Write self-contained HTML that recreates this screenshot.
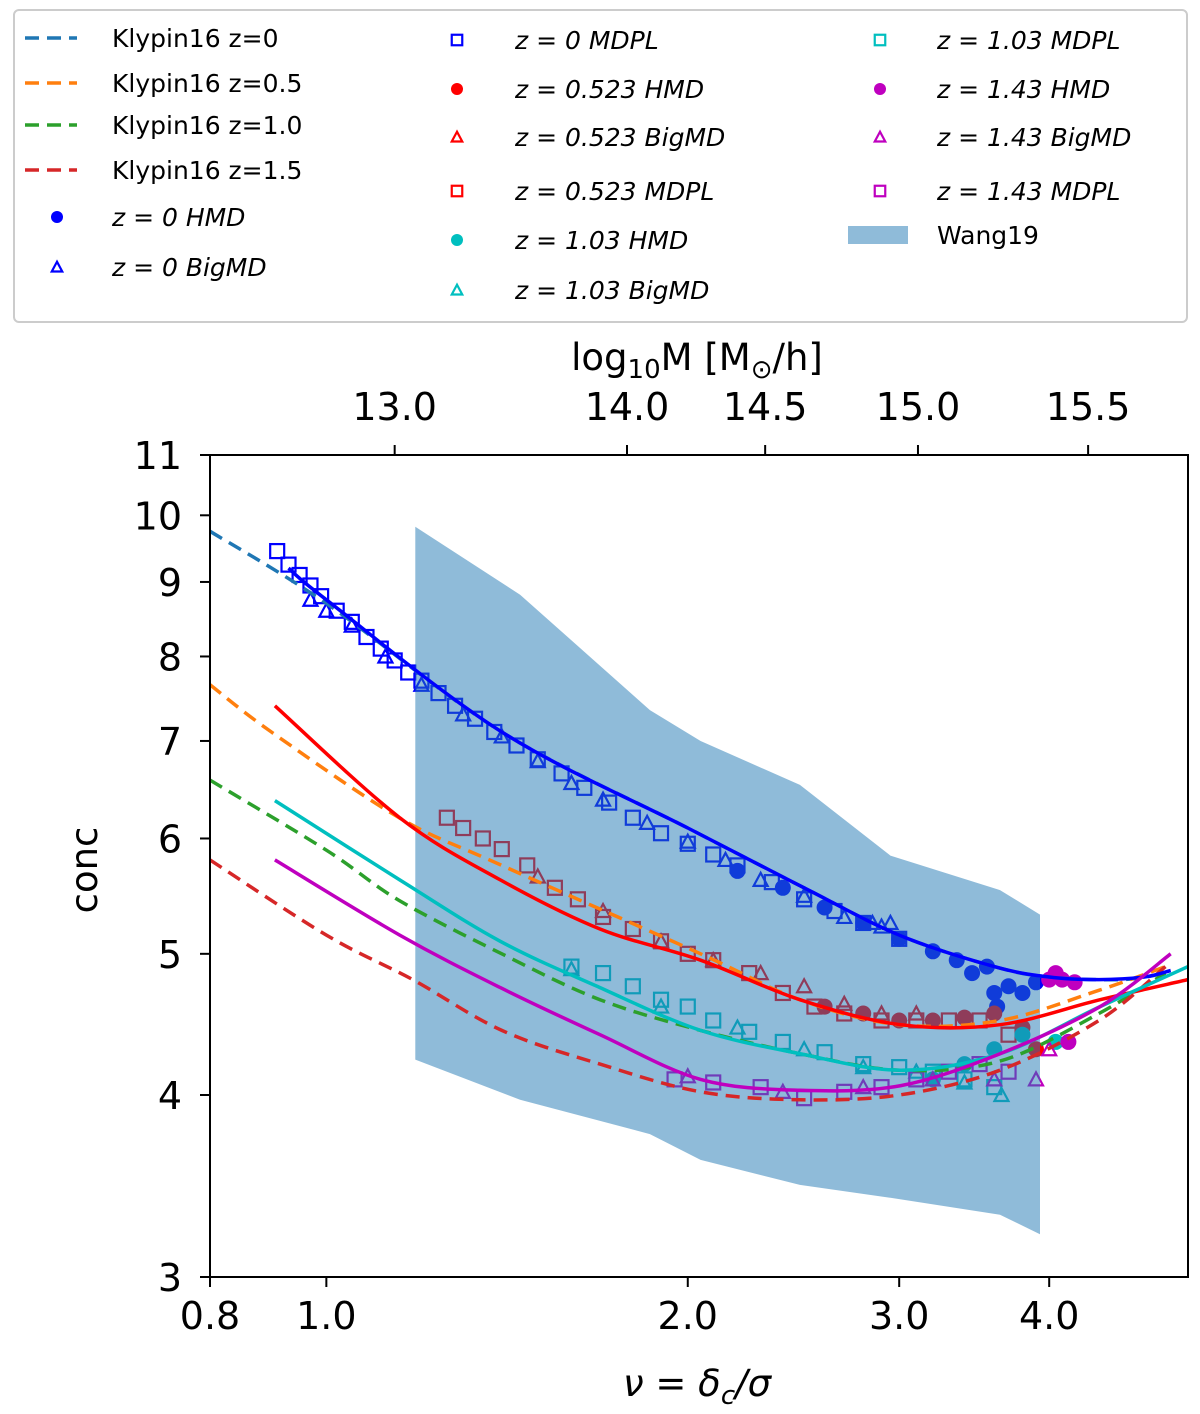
<!DOCTYPE html>
<html><head><meta charset="utf-8"><style>
html,body{margin:0;padding:0;background:#fff}
svg{display:block;font-family:"DejaVu Sans","Liberation Sans",sans-serif}
</style></head><body>
<svg id="chart" width="1200" height="1414" viewBox="0 0 1200 1414">
<defs><clipPath id="plotclip"><rect x="210" y="455" width="978" height="822"/></clipPath></defs>
<g id="legend">
<rect x="14" y="10" width="1173" height="312" rx="5" fill="#fff" stroke="#ccc" stroke-width="2"/>
</g>
<g id="marks" clip-path="url(#plotclip)"></g>
<rect x="210" y="455" width="978" height="822" fill="none" stroke="#000" stroke-width="2"/>
<g id="axes"></g>
<text x="697" y="370" font-size="37" text-anchor="middle">log<tspan font-size="26" dy="8">10</tspan><tspan dy="-8">M [M</tspan><tspan font-size="26" dy="8">⊙</tspan><tspan dy="-8">/h]</tspan></text>
<text x="697" y="1396" font-size="37" text-anchor="middle" font-style="italic">ν = δ<tspan font-size="26" dy="8">c</tspan><tspan dy="-8">/σ</tspan></text>
<text x="0" y="0" font-size="37" text-anchor="middle" transform="translate(97,870) rotate(-90)">conc</text>
</svg>
<script>
const xTicks=[0.8,1.0,2.0,3.0,4.0];
const yTicks=[3,4,5,6,7,8,9,10,11];
const topTickNu=[1.14,1.78,2.32,3.11,4.31];
const topTickLabels=["13.0","14.0","14.5","15.0","15.5"];
const klypinZ0Nu=[0.8,1.0,1.4,2.0,2.5,3.0,3.6,4.0,4.6,5.0];
const klypinZ0C=[9.75,8.7,7.1,6.1,5.55,5.15,4.9,4.82,4.8,4.85];
const klypinZ05Nu=[0.8,0.9,1.15,1.4,2.05,2.48,3.0,3.64,4.4,5.0];
const klypinZ05C=[7.65,7.1,6.2,5.75,5.0,4.65,4.47,4.5,4.72,4.9];
const klypinZ1Nu=[0.8,1.0,1.15,1.4,1.69,2.05,2.48,3.0,3.64,4.4,5.0];
const klypinZ1C=[6.58,5.89,5.44,5.0,4.65,4.43,4.27,4.16,4.22,4.55,4.85];
const klypinZ15Nu=[0.8,1.0,1.18,1.4,1.69,2.05,2.48,3.0,3.64,4.4,5.0];
const klypinZ15C=[5.8,5.15,4.8,4.43,4.2,4.02,3.97,4.0,4.16,4.5,4.9];
const fitZ0Nu=[0.93,1.0,1.4,2.0,2.5,3.0,3.6,4.0,4.4,4.8,5.05];
const fitZ0C=[9.2,8.75,7.1,6.1,5.55,5.15,4.9,4.82,4.8,4.82,4.87];
const fitZ05Nu=[0.906,1.151,1.396,1.69,2.05,2.48,3.01,3.64,4.41,5.22];
const fitZ05C=[7.4,6.2,5.62,5.2,4.95,4.65,4.47,4.47,4.65,4.8];
const fitZ1Nu=[0.906,1.151,1.396,1.69,2.05,2.48,3.01,3.64,4.41,5.22];
const fitZ1C=[6.37,5.62,5.1,4.74,4.43,4.27,4.16,4.27,4.6,4.9];
const fitZ15Nu=[0.906,1.151,1.396,1.69,2.05,2.48,3.01,3.64,4.41,5.05];
const fitZ15C=[5.8,5.15,4.74,4.4,4.1,4.03,4.06,4.27,4.6,5.0];
const wangNu=[1.186,1.45,1.86,2.05,2.48,2.95,3.64,3.93];
const wangUpper=[9.82,8.82,7.35,7.0,6.53,5.84,5.53,5.32];
const wangLower=[4.23,3.97,3.76,3.61,3.47,3.4,3.31,3.21];
const z0MdplNu=[0.91,0.93,0.95,0.97,0.99,1.02,1.05,1.08,1.11,1.14,1.17,1.2,1.24,1.28,1.33,1.38,1.44,1.5,1.57,1.64,1.72,1.8,1.9,2.0,2.1,2.2,2.35,2.5,2.65,2.8,3.0];
const z0MdplC=[9.45,9.25,9.1,8.95,8.8,8.6,8.45,8.25,8.1,7.95,7.8,7.7,7.55,7.4,7.25,7.1,6.95,6.8,6.65,6.5,6.35,6.2,6.05,5.95,5.85,5.75,5.6,5.45,5.35,5.25,5.12];
const z0BigNu=[0.97,1.0,1.05,1.12,1.2,1.3,1.4,1.5,1.6,1.7,1.85,2.0,2.15,2.3,2.5,2.7,2.85,2.9,2.95];
const z0BigC=[8.75,8.6,8.4,8.0,7.65,7.3,7.05,6.78,6.55,6.38,6.15,5.97,5.8,5.62,5.48,5.3,5.25,5.22,5.25];
const z0HmdNu=[2.2,2.4,2.6,2.8,3.0,3.2,3.35,3.45,3.55,3.6,3.62,3.7,3.8,3.9];
const z0HmdC=[5.7,5.55,5.38,5.25,5.12,5.02,4.95,4.85,4.9,4.7,4.6,4.75,4.7,4.78];
const z05MdplNu=[1.26,1.3,1.35,1.4,1.47,1.55,1.62,1.7,1.8,1.9,2.0,2.1,2.25,2.4,2.55,2.7,2.9,3.1,3.3,3.5,3.7];
const z05MdplC=[6.2,6.1,6.0,5.9,5.75,5.55,5.45,5.3,5.2,5.1,5.0,4.95,4.85,4.7,4.6,4.55,4.5,4.5,4.5,4.5,4.4];
const z05BigNu=[1.5,1.7,1.9,2.1,2.3,2.5,2.7,2.9,3.1];
const z05BigC=[5.65,5.35,5.1,4.95,4.85,4.75,4.62,4.55,4.55];
const z05HmdNu=[2.6,2.8,3.0,3.2,3.4,3.6,3.8,3.9];
const z05HmdC=[4.6,4.55,4.5,4.5,4.52,4.55,4.45,4.3];
const z1MdplNu=[1.6,1.7,1.8,1.9,2.0,2.1,2.25,2.4,2.6,2.8,3.0,3.2,3.4,3.6];
const z1MdplC=[4.9,4.85,4.75,4.65,4.6,4.5,4.42,4.35,4.28,4.2,4.18,4.15,4.1,4.05];
const z1BigNu=[1.6,1.9,2.2,2.5,2.8,3.1,3.4,3.65];
const z1BigC=[4.88,4.6,4.45,4.3,4.18,4.15,4.08,4.0];
const z1HmdNu=[3.2,3.4,3.6,3.8,4.05];
const z1HmdC=[4.1,4.2,4.3,4.4,4.35];
const z15MdplNu=[1.95,2.1,2.3,2.5,2.7,2.9,3.1,3.3,3.5,3.7];
const z15MdplC=[4.1,4.08,4.05,3.98,4.02,4.05,4.1,4.15,4.2,4.15];
const z15BigNu=[2.0,2.4,2.8,3.2,3.6,3.9,4.0];
const z15BigC=[4.12,4.02,4.05,4.1,4.1,4.1,4.3];
const z15HmdNu=[4.0,4.05,4.1,4.2,4.15];
const z15HmdC=[4.8,4.85,4.8,4.78,4.35];

const NS="http://www.w3.org/2000/svg";
const X0=210,X1=1188,Y0=1277,Y1=455,xmin=0.8,xmax=5.22,ymin=3,ymax=11;
function X(v){return X0+(X1-X0)*Math.log10(v/xmin)/Math.log10(xmax/xmin);}
function Y(v){return Y0-(Y0-Y1)*Math.log10(v/ymin)/Math.log10(ymax/ymin);}
function mk(tag,attrs,parent){const e=document.createElementNS(NS,tag);for(const k in attrs)e.setAttribute(k,attrs[k]);parent.appendChild(e);return e;}
const marks=document.getElementById('marks'),axes=document.getElementById('axes'),legend=document.getElementById('legend');

function marker(type,cx,cy,color,parent,s){
  s=s||1;let e;
  if(type==='sq')e=mk('rect',{x:cx-7*s,y:cy-7*s,width:14*s,height:14*s,fill:'none',stroke:color,'stroke-width':2.2},parent);
  else if(type==='dot')e=mk('circle',{cx:cx,cy:cy,r:8*s,fill:color},parent);
  else e=mk('polygon',{points:`${cx},${cy-7*s} ${cx-7*s},${cy+6*s} ${cx+7*s},${cy+6*s}`,fill:'none',stroke:color,'stroke-width':2.2},parent);
  return e;
}
function scatter(nus,cs,type,color,name){
  const g=mk('g',{},marks);
  
  
  nus.forEach((n,i)=>{const e=marker(type,X(n),Y(cs[i]),color,g);
    
    });
}
function smoothPath(pts){
  let d='M'+pts[0][0].toFixed(1)+','+pts[0][1].toFixed(1);
  for(let i=0;i<pts.length-1;i++){
    const p0=pts[Math.max(0,i-1)],p1=pts[i],p2=pts[i+1],p3=pts[Math.min(pts.length-1,i+2)];
    const c1=[p1[0]+(p2[0]-p0[0])/6,p1[1]+(p2[1]-p0[1])/6];
    const c2=[p2[0]-(p3[0]-p1[0])/6,p2[1]-(p3[1]-p1[1])/6];
    d+=`C${c1[0].toFixed(1)},${c1[1].toFixed(1)} ${c2[0].toFixed(1)},${c2[1].toFixed(1)} ${p2[0].toFixed(1)},${p2[1].toFixed(1)}`;
  }
  return d;
}
function line(nus,cs,color,dash,name){
  const pts=nus.map((n,i)=>[X(n),Y(cs[i])]);
  const p=mk('path',{d:smoothPath(pts),fill:'none',stroke:color,'stroke-width':3.5,'stroke-dasharray':dash||'none'},marks);
  
  
}
scatter(z0MdplNu,z0MdplC,'sq','#0000ff','z0-mdpl-series');
scatter(z0BigNu,z0BigC,'tri','#0000ff','z0-bigmd-series');
scatter(z0HmdNu,z0HmdC,'dot','#0000ff','z0-hmd-series');
scatter(z05MdplNu,z05MdplC,'sq','#ff0000','z0523-mdpl-series');
scatter(z05BigNu,z05BigC,'tri','#ff0000','z0523-bigmd-series');
scatter(z05HmdNu,z05HmdC,'dot','#ff0000','z0523-hmd-series');
scatter(z1MdplNu,z1MdplC,'sq','#00bfbf','z103-mdpl-series');
scatter(z1BigNu,z1BigC,'tri','#00bfbf','z103-bigmd-series');
scatter(z1HmdNu,z1HmdC,'dot','#00bfbf','z103-hmd-series');
scatter(z15MdplNu,z15MdplC,'sq','#bf00bf','z143-mdpl-series');
scatter(z15BigNu,z15BigC,'tri','#bf00bf','z143-bigmd-series');
scatter(z15HmdNu,z15HmdC,'dot','#bf00bf','z143-hmd-series');
{
  let d=wangNu.map((n,i)=>(i?'L':'M')+X(n).toFixed(1)+','+Y(wangUpper[i]).toFixed(1)).join('');
  for(let i=wangNu.length-1;i>=0;i--)d+='L'+X(wangNu[i]).toFixed(1)+','+Y(wangLower[i]).toFixed(1);
  const b=mk('path',{d:d+'Z',fill:'#1f77b4','fill-opacity':0.5},marks);
  
  
}
line(klypinZ0Nu,klypinZ0C,'#1f77b4','14 8','klypin16-z0-line');
line(klypinZ05Nu,klypinZ05C,'#ff7f0e','14 8','klypin16-z05-line');
line(klypinZ1Nu,klypinZ1C,'#2ca02c','14 8','klypin16-z1-line');
line(klypinZ15Nu,klypinZ15C,'#d62728','14 8','klypin16-z15-line');
line(fitZ0Nu,fitZ0C,'#0000ff',null,'fit-z0-line');
line(fitZ05Nu,fitZ05C,'#ff0000',null,'fit-z0523-line');
line(fitZ1Nu,fitZ1C,'#00bfbf',null,'fit-z103-line');
line(fitZ15Nu,fitZ15C,'#bf00bf',null,'fit-z143-line');
xTicks.forEach(t=>{const x=X(t);
  const l=mk('line',{x1:x,x2:x,y1:Y0,y2:Y0+10,stroke:'#000','stroke-width':2},axes);
  
  
  const tx=mk('text',{x:x,y:Y0+52,'font-size':38,'text-anchor':'middle'},axes);tx.textContent=t.toFixed(1);
  
  
});
yTicks.forEach(t=>{const y=Y(t);
  const l=mk('line',{x1:X0-10,x2:X0,y1:y,y2:y,stroke:'#000','stroke-width':2},axes);
  
  
  const tx=mk('text',{x:X0-28,y:y+14,'font-size':38,'text-anchor':'end'},axes);tx.textContent=t;
  
  
});
topTickNu.forEach((t,i)=>{const x=X(t);
  const l=mk('line',{x1:x,x2:x,y1:Y1-10,y2:Y1,stroke:'#000','stroke-width':2},axes);
  
  
  const tx=mk('text',{x:x,y:Y1-35,'font-size':38,'text-anchor':'middle'},axes);tx.textContent=topTickLabels[i];
  
  
});
const legendLines=[["Klypin16 z=0","#1f77b4",38],["Klypin16 z=0.5","#ff7f0e",83],["Klypin16 z=1.0","#2ca02c",125],["Klypin16 z=1.5","#d62728",170]];
legendLines.forEach(r=>{
  const l=mk('line',{x1:25,x2:77,y1:r[2],y2:r[2],stroke:r[1],'stroke-width':3.5,'stroke-dasharray':'14 8'},legend);
  
  
  const t=mk('text',{x:112,y:r[2]+9,'font-size':25},legend);t.textContent=r[0];
  
  
});
const legendMarkers=[
 [57,217,'dot','#0000ff','z = 0','HMD',112],[57,267,'tri','#0000ff','z = 0','BigMD',112],
 [457,40,'sq','#0000ff','z = 0','MDPL',515],[457,89,'dot','#ff0000','z = 0.523','HMD',515],[457,137,'tri','#ff0000','z = 0.523','BigMD',515],[457,191,'sq','#ff0000','z = 0.523','MDPL',515],[457,240,'dot','#00bfbf','z = 1.03','HMD',515],[457,290,'tri','#00bfbf','z = 1.03','BigMD',515],
 [880,40,'sq','#00bfbf','z = 1.03','MDPL',937],[880,89,'dot','#bf00bf','z = 1.43','HMD',937],[880,137,'tri','#bf00bf','z = 1.43','BigMD',937],[880,191,'sq','#bf00bf','z = 1.43','MDPL',937]];
legendMarkers.forEach(r=>{
  const m=marker(r[2],r[0],r[1],r[3],legend,0.75);
  
  
  const t=mk('text',{x:r[6],y:r[1]+9,'font-size':25,'font-style':'italic'},legend);t.textContent=r[4]+' '+r[5];
  
  
});
{
  const p=mk('rect',{x:848,y:226,width:60,height:18,fill:'#1f77b4','fill-opacity':0.5},legend);
  
  
  const t=mk('text',{x:937,y:244,'font-size':25},legend);t.textContent='Wang19';
  
  
}
</script>
</body></html>
